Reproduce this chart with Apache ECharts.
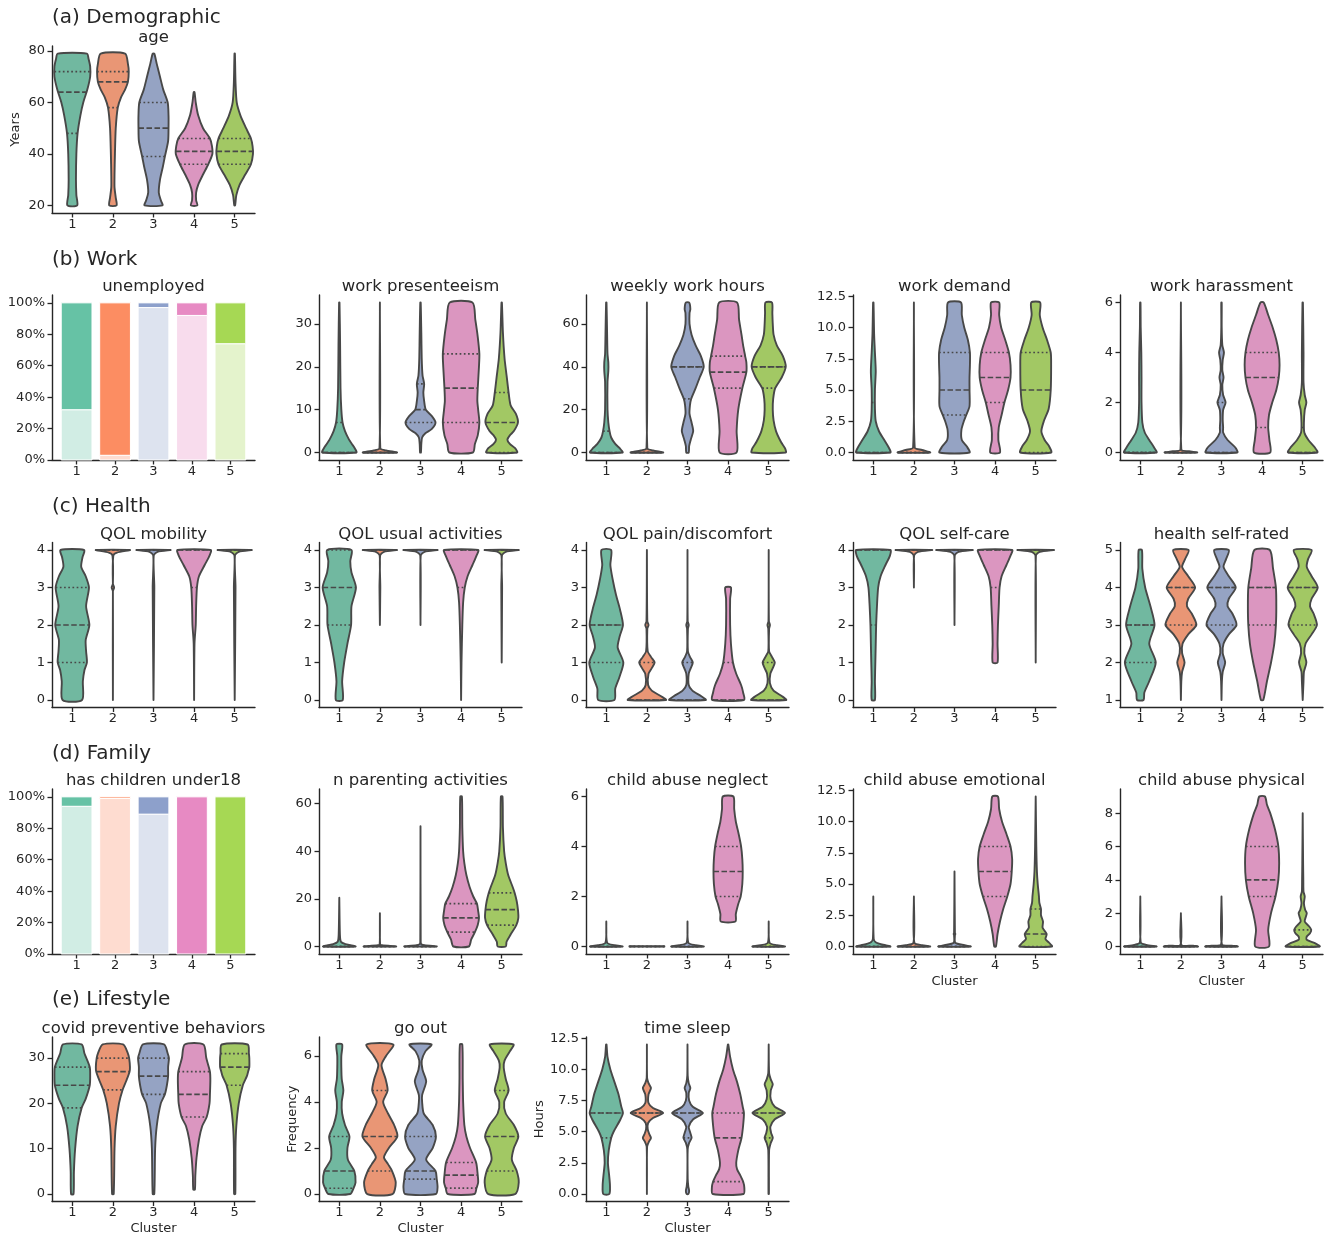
<!DOCTYPE html>
<html>
<head>
<meta charset="utf-8">
<script src="https://cdn.jsdelivr.net/npm/echarts@6.0.0/dist/echarts.min.js"></script>
<style>
  html, body { margin: 0; padding: 0; background: #fff; }
  #chart { width: 1325px; height: 1234px; }
</style>
</head>
<body>
<div id="chart"></div>
<script>
// clusters on every x axis
const clusters = ['1', '2', '3', '4', '5'];

// violin shapes: per cluster a list of [value, half width in cluster units]
// quartiles: per cluster [q1, median, q3]

// (a) Demographic
const ageShape = [
  [[20,.12],[24,.1],[30,.09],[40,.1],[48,.13],[55,.2],[60,.27],[65,.37],[70,.44],[74,.44],[77,.4],[79,.36]],
  [[20,.09],[23,.07],[27,.04],[32,.04],[40,.05],[50,.07],[58,.12],[62,.2],[65,.3],[68,.37],[72,.39],[75,.37],[79,.3]],
  [[20,.22],[22,.18],[25,.13],[30,.16],[35,.23],[39,.28],[45,.36],[50,.37],[55,.37],[60,.35],[65,.24],[70,.16],[75,.08],[79,.02]],
  [[20,.08],[22,.05],[25,.05],[28,.1],[32,.22],[36,.35],[40,.45],[43,.44],[46,.39],[50,.22],[55,.1],[60,.04],[64,.01]],
  [[20,.01],[24,.04],[28,.12],[32,.26],[36,.4],[40,.45],[43,.44],[46,.4],[50,.28],[55,.14],[60,.05],[68,.02],[79,.005]]
];
const ageQuart = [[48,64,72],[58,68,72],[39,50,60],[36,41,46],[36,41,46]];

// (b) Work
const unemployedNo = [32, 3, 97, 92, 74];
const unemployedYes = [68, 97, 3, 8, 26];

const presShape = [
  [[0,.42],[1,.38],[2,.31],[3,.24],[5,.14],[7,.08],[10,.05],[15,.03],[25,.02],[35,.005]],
  [[0,.42],[0.5,.15],[1,.01],[35,0]],
  [[0,.01],[2,.02],[3.5,.04],[4.5,.12],[5.5,.28],[7,.37],[8.5,.28],[10,.13],[12,.09],[14,.07],[16,.09],[18,.05],[22,.03],[28,.02],[35,.005]],
  [[0,.29],[2,.34],[4,.41],[7,.45],[10,.42],[12,.4],[15,.41],[20,.44],[23,.45],[27,.41],[31,.35],[35,.28]],
  [[0,.38],[1,.33],[2,.2],[3,.14],[4,.2],[5,.3],[7,.4],[9,.35],[11,.22],[14,.17],[18,.12],[22,.07],[28,.03],[35,.005]]
];
const presQuart = [[0,0,7],[0,0,0],[7,10,16],[7,15,23],[0,7,14]];

const hoursShape = [
  [[0,.4],[2,.33],[4,.22],[7,.12],[10,.08],[14,.05],[20,.03],[33,.03],[38,.05],[42,.05],[46,.03],[55,.02],[70,.005]],
  [[0,.4],[1,.15],[2,.01],[70,0]],
  [[0,.03],[3,.04],[6,.08],[10,.14],[14,.1],[18,.05],[22,.06],[25,.09],[30,.2],[35,.3],[40,.4],[45,.33],[50,.2],[55,.1],[60,.05],[65,.05],[67,.07],[70,.04]],
  [[0,.21],[10,.21],[20,.25],[30,.35],[37.5,.45],[42,.45],[45,.42],[50,.37],[55,.33],[62,.27],[70,.22]],
  [[0,.42],[2,.4],[5,.3],[10,.18],[15,.12],[20,.1],[25,.11],[30,.16],[35,.32],[40,.42],[45,.35],[50,.2],[55,.12],[60,.1],[65,.09],[70,.08]]
];
const hoursQuart = [[0,0,10],[0,0,0],[25,40,40],[30,37.5,45],[30,40,40]];

const demandShape = [
  [[0,.42],[0.4,.38],[1,.27],[1.7,.14],[2.5,.06],[3.5,.04],[5,.04],[6.5,.06],[8,.04],[9.5,.02],[12,.005]],
  [[0,.4],[0.2,.2],[0.4,.02],[12,0]],
  [[0,.37],[0.5,.3],[1,.18],[1.8,.17],[2.5,.23],[3,.29],[3.7,.37],[5,.37],[6,.37],[7,.38],[8,.38],[9,.33],[10,.24],[11,.18],[12,.16]],
  [[0,.12],[1,.08],[2,.09],[3,.16],[4,.23],[5,.32],[6,.38],[7,.38],[8,.34],[9,.25],[10,.15],[11,.1],[12,.1]],
  [[0,.38],[0.5,.33],[1,.22],[1.7,.14],[2.5,.2],[3.5,.32],[5,.37],[7,.38],[8,.37],[9,.28],[10,.17],[11,.1],[12,.11]]
];
const demandQuart = [[0,0,4],[0,0,0],[3,5,8],[4,6,8],[0,5,8]];

const harassShape = [
  [[0,.4],[0.2,.34],[0.5,.22],[0.8,.11],[1.2,.05],[2,.03],[3,.03],[4,.025],[5,.01],[6,.005]],
  [[0,.4],[0.05,.2],[0.12,.01],[6,0]],
  [[0,.39],[0.2,.34],[0.5,.15],[0.8,.04],[1,.04],[1.3,.03],[1.7,.04],[2,.1],[2.3,.04],[2.7,.02],[3,.05],[3.3,.02],[3.7,.03],[4,.06],[4.3,.02],[5,.005],[6,.005]],
  [[0,.2],[0.5,.18],[1,.15],[1.5,.17],[2,.25],[2.5,.35],[3,.41],[3.5,.43],[4,.41],[4.5,.35],[5,.26],[5.5,.15],[6,.04]],
  [[0,.36],[0.2,.3],[0.5,.14],[0.8,.04],[1.2,.03],[1.7,.05],[2,.09],[2.3,.05],[2.8,.02],[4,.02],[6,.005]]
];
const harassQuart = [[0,0,0],[0,0,0],[0,0,2],[1,3,4],[0,0,1]];

// (c) Health
const mobilityShape = [
  [[0,.24],[0.5,.26],[0.8,.3],[1,.36],[1.3,.34],[1.6,.33],[2,.42],[2.5,.34],[3,.41],[3.3,.33],[3.55,.22],[3.8,.25],[4,.29]],
  [[0,0],[2.9,0],[3,.03],[3.1,0],[3.85,.01],[3.93,.1],[4,.42]],
  [[0,0],[3,.02],[3.85,.005],[3.95,.1],[4,.42]],
  [[0,0],[1.5,.01],[2,.04],[2.5,.05],[3,.07],[3.3,.12],[3.6,.26],[3.85,.38],[4,.41]],
  [[0,0],[3,.02],[3.85,.005],[3.95,.1],[4,.42]]
];
const mobilityQuart = [[1,2,3],[4,4,4],[4,4,4],[3,4,4],[4,4,4]];

const usualShape = [
  [[0,.085],[0.5,.07],[1,.12],[1.5,.2],[2,.29],[2.5,.3],[3,.41],[3.4,.3],[3.7,.27],[4,.3]],
  [[2,0],[3,.01],[3.85,.005],[3.95,.1],[4,.42]],
  [[2,0],[3.85,.005],[3.95,.1],[4,.42]],
  [[0,0],[1,.01],[2,.03],[2.6,.05],[3,.09],[3.3,.16],[3.6,.28],[3.85,.38],[4,.42]],
  [[1,0],[3,.01],[3.85,.005],[3.95,.1],[4,.42]]
];
const usualQuart = [[2,3,4],[4,4,4],[4,4,4],[3,4,4],[4,4,4]];

const painShape = [
  [[0,.2],[0.3,.22],[0.6,.32],[1,.42],[1.4,.28],[1.7,.33],[2,.41],[2.4,.34],[2.8,.24],[3.2,.16],[3.6,.1],[4,.12]],
  [[0,.47],[0.1,.35],[0.25,.12],[0.4,.03],[0.7,.04],[0.85,.12],[1,.19],[1.15,.1],[1.3,.02],[1.9,.01],[2,.04],[2.1,.01],[4,0]],
  [[0,.45],[0.1,.34],[0.25,.12],[0.4,.03],[0.7,.03],[0.85,.08],[1,.13],[1.15,.06],[1.3,.01],[1.9,.01],[2,.03],[2.1,.005],[4,0]],
  [[0,.39],[0.2,.37],[0.4,.32],[0.7,.2],[1,.12],[1.5,.07],[2,.05],[2.7,.05],[3,.07]],
  [[0,.43],[0.1,.33],[0.25,.12],[0.45,.03],[0.7,.04],[0.85,.1],[1,.15],[1.15,.08],[1.3,.01],[1.9,.01],[2,.03],[2.1,.005],[4,0]]
];
const painQuart = [[1,2,2],[0,0,1],[0,0,1],[0,0,1],[0,0,1]];

const selfcareShape = [
  [[0,.04],[0.5,.04],[1,.05],[1.5,.06],[2,.07],[2.5,.09],[3,.12],[3.3,.18],[3.6,.3],[3.85,.41],[4,.42]],
  [[3,0],[3.85,.005],[3.95,.1],[4,.45]],
  [[2,0],[3.85,.005],[3.95,.1],[4,.45]],
  [[1,.06],[1.5,.06],[2,.07],[2.5,.09],[3,.11],[3.3,.16],[3.6,.28],[3.85,.38],[4,.42]],
  [[1,0],[3.85,.005],[3.95,.1],[4,.45]]
];
const selfcareQuart = [[2,4,4],[4,4,4],[4,4,4],[3,4,4],[4,4,4]];

const healthShape = [
  [[1,.08],[1.2,.1],[1.5,.22],[2,.38],[2.5,.22],[3,.35],[3.5,.25],[4,.12],[4.5,.05],[5,.04]],
  [[1,0],[1.5,.01],[1.75,.03],[2,.09],[2.25,.03],[2.5,.04],[2.75,.18],[3,.38],[3.3,.27],[3.5,.15],[3.7,.18],[4,.35],[4.3,.18],[4.55,.03],[4.75,.1],[5,.19]],
  [[1,0],[1.5,.01],[1.75,.03],[2,.09],[2.25,.03],[2.5,.05],[2.75,.18],[3,.37],[3.3,.27],[3.5,.15],[3.7,.18],[4,.35],[4.3,.18],[4.55,.05],[4.75,.11],[5,.18]],
  [[1,.03],[1.5,.12],[2,.22],[2.5,.3],[3,.34],[3.5,.35],[4,.34],[4.5,.27],[5,.19]],
  [[1,0],[1.5,.02],[1.75,.03],[2,.09],[2.25,.04],[2.5,.07],[2.75,.22],[3,.35],[3.3,.27],[3.5,.18],[3.7,.22],[4,.37],[4.3,.22],[4.55,.1],[4.75,.13],[5,.22]]
];
const healthQuart = [[2,3,3],[3,4,4],[3,4,4],[3,4,4],[3,4,4]];

// (d) Family
const childrenNo = [94, 99, 89, 0, 0];
const childrenYes = [6, 1, 11, 100, 100];

const parentingShape = [
  [[0,.4],[0.5,.3],[1,.15],[2,.04],[5,.015],[20.5,0]],
  [[0,.4],[0.5,.05],[1,.005],[14,0]],
  [[0,.4],[0.5,.1],[1,.02],[2,.005],[50.5,0]],
  [[0,.19],[3,.25],[6,.34],[9,.41],[12,.44],[15,.42],[18,.39],[21,.3],[25,.21],[30,.13],[35,.08],[40,.05],[50,.03],[63,.02]],
  [[0,.1],[2,.12],[5,.22],[9,.36],[12,.41],[15.5,.4],[19,.37],[22.5,.32],[25,.27],[30,.16],[35,.1],[40,.06],[50,.03],[63,.02]]
];
const parentingQuart = [[0,0,0],[0,0,0],[0,0,0],[6,12,18],[9,15.5,22.5]];

const neglectShape = [
  [[0,.4],[0.05,.2],[0.15,.02],[1,0]],
  [[0,.43],[0.01,.43]],
  [[0,.4],[0.05,.2],[0.15,.02],[1,0]],
  [[1,.18],[1.3,.19],[1.7,.25],[2,.31],[2.5,.35],[3,.36],[3.5,.35],[4,.32],[4.5,.26],[5,.19],[5.5,.15],[6,.13]],
  [[0,.4],[0.05,.2],[0.15,.02],[1,0]]
];
const neglectQuart = [[0,0,0],[0,0,0],[0,0,0],[2,3,4],[0,0,0]];

const emotionalShape = [
  [[0,.42],[0.1,.3],[0.3,.08],[0.6,.01],[4,0]],
  [[0,.4],[0.1,.2],[0.3,.01],[4,0]],
  [[0,.4],[0.1,.25],[0.3,.02],[0.9,.01],[1,.02],[1.1,.01],[6,0]],
  [[0,.02],[1,.06],[2,.12],[3,.2],[4,.3],[5,.38],[6,.41],[7,.42],[8,.38],[9,.28],[10,.17],[11,.1],[12,.07]],
  [[0,.4],[0.3,.33],[0.6,.24],[1,.27],[1.5,.17],[2,.18],[2.5,.13],[3,.13],[3.5,.09],[4,.08],[5,.05],[6,.03],[8,.015],[12,0]]
];
const emotionalQuart = [[0,0,0],[0,0,0],[0,0,0],[4,6,8],[0,1,3]];

const physicalShape = [
  [[0,.4],[0.1,.15],[0.25,.01],[3,0]],
  [[0,.42],[0.05,.3],[0.1,.01],[2,0]],
  [[0,.4],[0.05,.25],[0.12,.01],[3,0]],
  [[0,.17],[1,.15],[2,.22],[3,.33],[4,.4],[5,.42],[6,.4],[7,.32],[8,.2],[8.5,.12],[9,.07]],
  [[0,.42],[0.2,.3],[0.4,.1],[0.6,.1],[0.8,.18],[1,.21],[1.2,.16],[1.5,.05],[1.8,.08],[2,.1],[2.2,.06],[2.6,.03],[3,.05],[3.3,.02],[4,.015],[5,.01],[8,0]]
];
const physicalQuart = [[0,0,0],[0,0,0],[0,0,0],[3,4,6],[0,0,1]];

// (e) Lifestyle
const covidShape = [
  [[0,.03],[5,.04],[10,.07],[15,.13],[19,.23],[21,.33],[24,.43],[26,.44],[28,.43],[31,.3],[33,.23]],
  [[0,.02],[10,.04],[15,.07],[20,.15],[23,.24],[25,.33],[27,.41],[28,.42],[30,.4],[31,.37],[33,.25]],
  [[0,.02],[10,.04],[15,.08],[20,.18],[22,.28],[24,.33],[26,.36],[28,.36],[30,.38],[31,.35],[33,.26]],
  [[1,.02],[4,.03],[8,.06],[12,.12],[15,.2],[17,.31],[20,.38],[22,.39],[25,.4],[27,.39],[30,.3],[33,.23]],
  [[0,.015],[10,.02],[15,.04],[20,.1],[24,.2],[26,.3],[27,.33],[28,.36],[30,.36],[31,.35],[33,.32]]
];
const covidQuart = [[19,24,28],[23,27,30],[22,26,30],[17,22,27],[24,28,31]];

const goOutShape = [
  [[0,.27],[0.25,.35],[0.5,.4],[1,.37],[1.5,.21],[2,.2],[2.5,.25],[3,.14],[3.5,.07],[4,.06],[4.5,.1],[5,.06],[5.5,.05],[6,.05],[6.5,.07]],
  [[0,.31],[0.5,.39],[1,.3],[1.3,.2],[1.6,.1],[2,.22],[2.5,.43],[3,.35],[3.5,.2],[4,.08],[4.5,.19],[5,.14],[5.6,.04],[6,.15],[6.5,.33]],
  [[0,.38],[0.3,.42],[0.65,.4],[1,.37],[1.5,.14],[2,.3],[2.5,.38],[3,.3],[3.5,.08],[4,.04],[4.3,.04],[4.9,.14],[5.4,.05],[5.8,.03],[6.2,.12],[6.5,.27]],
  [[0,.33],[0.26,.38],[0.5,.42],[0.82,.41],[1.37,.37],[2,.22],[2.5,.13],[3,.08],[4,.05],[5,.04],[6.5,.03]],
  [[0,.33],[0.5,.42],[1,.37],[1.5,.25],[2,.3],[2.5,.41],[3,.3],[3.5,.1],[4,.06],[4.5,.17],[5,.1],[5.5,.05],[5.8,.07],[6.2,.2],[6.5,.29]]
];
const goOutQuart = [[0.25,1,2.5],[1,2.5,4.5],[0.65,1,2.5],[0.26,0.82,1.37],[1,2.5,4.5]];

const sleepShape = [
  [[0,.075],[0.7,.09],[1.5,.07],[2.5,.04],[3.5,.06],[4.5,.12],[5,.18],[6,.35],[6.5,.41],[7,.37],[8,.3],[9,.2],[10,.1],[11,.03],[12,.005]],
  [[0,0],[3.8,.005],[4.2,.05],[4.5,.1],[4.8,.06],[5.2,.02],[5.7,.03],[6.1,.15],[6.5,.4],[6.9,.15],[7.3,.04],[8,.04],[8.5,.1],[8.9,.04],[9.3,.005],[12,0]],
  [[0,.02],[0.25,.04],[0.6,.02],[1.2,.005],[3.6,.005],[4.1,.04],[4.5,.1],[4.9,.07],[5.4,.03],[6,.14],[6.5,.38],[7,.13],[7.5,.04],[8.1,.03],[8.5,.07],[8.9,.03],[9.5,.005],[12,0]],
  [[0,.38],[0.5,.4],[1,.37],[1.5,.3],[2,.22],[2.5,.2],[3.5,.25],[4.5,.33],[5.5,.37],[6.5,.39],[7,.36],[8,.3],[9,.22],[10,.12],[11,.05],[12,.005]],
  [[0,.005],[3.5,.01],[4.1,.05],[4.5,.1],[4.9,.06],[5.4,.04],[6,.15],[6.5,.4],[7,.15],[7.6,.05],[8.3,.05],[8.8,.1],[9.2,.05],[9.7,.01],[12,0]]
];
const sleepQuart = [[4.5,6.5,6.5],[6.5,6.5,6.5],[4.5,6.5,6.5],[1,4.5,6.5],[4.5,6.5,6.5]];

// tick labels
const ageTicks = [20, 40, 60, 80];
const pctTicks = [0, 20, 40, 60, 80, 100];
const presTicks = [0, 10, 20, 30];
const hoursTicks = [0, 20, 40, 60];
const halfTicks = [0, 2.5, 5, 7.5, 10, 12.5];
const sixTicks = [0, 2, 4, 6];
const qolTicks = [0, 1, 2, 3, 4];
const healthTicks = [1, 2, 3, 4, 5];
const parentTicks = [0, 20, 40, 60];
const physTicks = [0, 2, 4, 6, 8];
const covidTicks = [0, 10, 20, 30];

const sectionTitles = ['(a) Demographic', '(b) Work', '(c) Health', '(d) Family', '(e) Lifestyle'];

// colours (Set2; violins use seaborn's 0.75 saturation)
const set2 = ['#66c2a5', '#fc8d62', '#8da0cb', '#e78ac3', '#a6d854'];
const violinFill = ['#71b8a0', '#e99675', '#95a3c3', '#db96c0', '#a2c864'];
const barLight = ['#d1ede4', '#fedcd0', '#dde3ef', '#f8dced', '#e4f3cc'];
const TEXT = '#262626';
const EDGE = '#484848';
const FONT = '"DejaVu Sans", sans-serif';

const fmtInt = v => String(v);
const fmt1 = v => v.toFixed(1);
const fmtPct = v => v + '%';

const panels = [
  { row: 0, col: 0, title: 'age', shape: ageShape, quart: ageQuart, ticks: ageTicks, fmt: fmtInt, yName: 'Years', yGap: 30 },
  { row: 1, col: 0, title: 'unemployed', bars: [unemployedNo, unemployedYes], ticks: pctTicks, fmt: fmtPct },
  { row: 1, col: 1, title: 'work presenteeism', shape: presShape, quart: presQuart, ticks: presTicks, fmt: fmtInt },
  { row: 1, col: 2, title: 'weekly work hours', shape: hoursShape, quart: hoursQuart, ticks: hoursTicks, fmt: fmtInt },
  { row: 1, col: 3, title: 'work demand', shape: demandShape, quart: demandQuart, ticks: halfTicks, fmt: fmt1 },
  { row: 1, col: 4, title: 'work harassment', shape: harassShape, quart: harassQuart, ticks: sixTicks, fmt: fmtInt },
  { row: 2, col: 0, title: 'QOL mobility', shape: mobilityShape, quart: mobilityQuart, ticks: qolTicks, fmt: fmtInt },
  { row: 2, col: 1, title: 'QOL usual activities', shape: usualShape, quart: usualQuart, ticks: qolTicks, fmt: fmtInt },
  { row: 2, col: 2, title: 'QOL pain/discomfort', shape: painShape, quart: painQuart, ticks: qolTicks, fmt: fmtInt },
  { row: 2, col: 3, title: 'QOL self-care', shape: selfcareShape, quart: selfcareQuart, ticks: qolTicks, fmt: fmtInt },
  { row: 2, col: 4, title: 'health self-rated', shape: healthShape, quart: healthQuart, ticks: healthTicks, fmt: fmtInt },
  { row: 3, col: 0, title: 'has children under18', bars: [childrenNo, childrenYes], ticks: pctTicks, fmt: fmtPct },
  { row: 3, col: 1, title: 'n parenting activities', shape: parentingShape, quart: parentingQuart, ticks: parentTicks, fmt: fmtInt },
  { row: 3, col: 2, title: 'child abuse neglect', shape: neglectShape, quart: neglectQuart, ticks: sixTicks, fmt: fmtInt },
  { row: 3, col: 3, title: 'child abuse emotional', shape: emotionalShape, quart: emotionalQuart, ticks: halfTicks, fmt: fmt1, xName: 'Cluster' },
  { row: 3, col: 4, title: 'child abuse physical', shape: physicalShape, quart: physicalQuart, ticks: physTicks, fmt: fmtInt, xName: 'Cluster' },
  { row: 4, col: 0, title: 'covid preventive behaviors', shape: covidShape, quart: covidQuart, ticks: covidTicks, fmt: fmtInt, xName: 'Cluster' },
  { row: 4, col: 1, title: 'go out', shape: goOutShape, quart: goOutQuart, ticks: sixTicks, fmt: fmtInt, xName: 'Cluster', yName: 'Frequency', yGap: 20 },
  { row: 4, col: 2, title: 'time sleep', shape: sleepShape, quart: sleepQuart, ticks: halfTicks, fmt: fmt1, xName: 'Cluster', yName: 'Hours', yGap: 40 }
];

// layout
const rowTop = [46, 295, 542.5, 789, 1037];
const rowH = [167, 165, 165, 165, 164.5];
const sectionY = [18, 260, 507, 754, 1000];
const colLeft = c => 52 + 267 * c;
const PW = 203;

// half width of a violin at value v (straight line between read points)
function widthAt(prof, v) {
  if (v <= prof[0][0]) return prof[0][1];
  for (let k = 1; k < prof.length; k++) {
    if (v <= prof[k][0]) {
      const a = prof[k - 1], b = prof[k];
      const t = (v - a[0]) / ((b[0] - a[0]) || 1);
      return a[1] + t * (b[1] - a[1]);
    }
  }
  return prof[prof.length - 1][1];
}

function violinRenderer(shape, quart) {
  return function (params, api) {
    const i = api.value(0);
    const prof = shape[i];
    const right = prof.map(p => api.coord([i + p[1], p[0]]));
    const left = prof.slice().reverse().map(p => api.coord([i - p[1], p[0]]));
    const children = [{
      type: 'polygon',
      shape: { points: right.concat(left), smooth: 0.25 },
      style: { fill: violinFill[i], stroke: EDGE, lineWidth: 1.9, lineJoin: 'round' }
    }];
    quart[i].forEach((q, k) => {
      const w = widthAt(prof, q);
      const a = api.coord([i - w, q]);
      const b = api.coord([i + w, q]);
      children.push({
        type: 'line',
        shape: { x1: a[0], y1: a[1], x2: b[0], y2: b[1] },
        style: { stroke: EDGE, lineWidth: 1.7, lineDash: k === 1 ? [5.5, 2.5] : [1.7, 2.5] }
      });
    });
    return { type: 'group', children: children };
  };
}

function barRenderer(lower, upper) {
  return function (params, api) {
    const i = api.value(0);
    const a0 = api.coord([i - 0.4, 0]);
    const a1 = api.coord([i + 0.4, lower[i]]);
    const a2 = api.coord([i + 0.4, lower[i] + upper[i]]);
    const children = [];
    if (lower[i] > 0) {
      children.push({ type: 'rect', shape: { x: a0[0], y: a1[1], width: a1[0] - a0[0], height: a0[1] - a1[1] },
        style: { fill: barLight[i], stroke: '#fff', lineWidth: 1 } });
    }
    if (upper[i] > 0) {
      children.push({ type: 'rect', shape: { x: a0[0], y: a2[1], width: a2[0] - a0[0], height: a1[1] - a2[1] },
        style: { fill: set2[i], stroke: '#fff', lineWidth: 1 } });
    }
    return { type: 'group', children: children };
  };
}

const grid = [], xAxis = [], yAxis = [], series = [], graphic = [];
const tickIdx = clusters.map((c, i) => i);

panels.forEach((p, n) => {
  const left = colLeft(p.col);
  const top = rowTop[p.row];
  const isBar = !!p.bars;
  grid.push({ left: left, top: top, width: PW, height: rowH[p.row], outerBoundsMode: 'none' });

  let ymin, ymax;
  if (isBar) { ymin = 0; ymax = 105; }
  else {
    let lo = Infinity, hi = -Infinity;
    p.shape.forEach(prof => prof.forEach(pt => { lo = Math.min(lo, pt[0]); hi = Math.max(hi, pt[0]); }));
    const pad = (hi - lo) * 0.05;
    ymin = lo - pad; ymax = hi + pad;
  }

  xAxis.push({
    type: 'value', gridIndex: n,
    min: isBar ? -0.64 : -0.5, max: isBar ? 4.64 : 4.5,
    axisLine: { onZero: false, lineStyle: { color: TEXT, width: 1.4 } },
    axisTick: { customValues: tickIdx, length: 4.5, lineStyle: { color: TEXT, width: 1.3 } },
    axisLabel: { customValues: tickIdx, formatter: v => clusters[Math.round(v)], color: TEXT, fontSize: 13, fontFamily: FONT, margin: 5 },
    splitLine: { show: false },
    name: p.xName || '', nameLocation: 'middle', nameGap: 21,
    nameTextStyle: { color: TEXT, fontSize: 13, fontFamily: FONT }
  });
  yAxis.push({
    type: 'value', gridIndex: n, min: ymin, max: ymax,
    axisLine: { show: true, onZero: false, lineStyle: { color: TEXT, width: 1.4 } },
    axisTick: { show: true, customValues: p.ticks, length: 4.5, lineStyle: { color: TEXT, width: 1.3 } },
    axisLabel: { customValues: p.ticks, formatter: p.fmt, color: TEXT, fontSize: 13, fontFamily: FONT, margin: 7 },
    splitLine: { show: false },
    name: p.yName || '', nameLocation: 'middle', nameGap: p.yGap || 30,
    nameTextStyle: { color: TEXT, fontSize: 13, fontFamily: FONT }
  });

  if (isBar) {
    series.push({
      type: 'custom', coordinateSystem: 'cartesian2d', xAxisIndex: n, yAxisIndex: n, silent: true,
      data: clusters.map((c, i) => [i, p.bars[0][i] + p.bars[1][i]]),
      renderItem: barRenderer(p.bars[0], p.bars[1])
    });
  } else {
    series.push({
      type: 'custom', coordinateSystem: 'cartesian2d', xAxisIndex: n, yAxisIndex: n, silent: true,
      data: clusters.map((c, i) => [i, p.quart[i][1]]),
      renderItem: violinRenderer(p.shape, p.quart)
    });
  }

  graphic.push({
    type: 'text', x: left + PW / 2, y: top - 8, silent: true,
    style: { text: p.title, fill: TEXT, font: '16.5px ' + FONT, textAlign: 'center', textVerticalAlign: 'middle' }
  });
});

sectionTitles.forEach((t, r) => {
  graphic.push({
    type: 'text', x: 52, y: sectionY[r], silent: true,
    style: { text: t, fill: TEXT, font: '20px ' + FONT, textAlign: 'left', textVerticalAlign: 'middle' }
  });
});

const chart = echarts.init(document.getElementById('chart'), null, { renderer: 'canvas' });
chart.setOption({
  animation: false,
  backgroundColor: '#ffffff',
  grid: grid,
  xAxis: xAxis,
  yAxis: yAxis,
  series: series,
  graphic: graphic
});
</script>
</body>
</html>
